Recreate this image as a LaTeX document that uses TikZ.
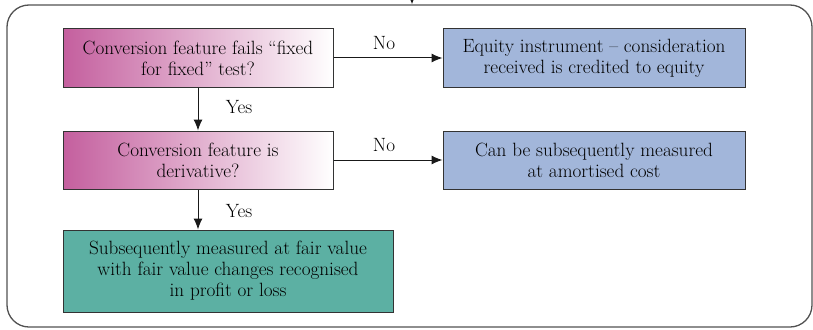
\documentclass[tikz,border=0pt]{standalone}
\usetikzlibrary{arrows.meta}

\definecolor{testpink}{HTML}{C45F9E}
\definecolor{resultblue}{HTML}{A2B6DA}
\definecolor{resultgreen}{HTML}{5CB0A3}
\definecolor{edgegrey}{HTML}{333333}

\begin{document}
\begin{tikzpicture}[
  x=1pt,
  y=-1pt,
  font=\fontsize{19.2}{21}\selectfont,
  frame/.style={
    draw=edgegrey!85,
    line width=1.3pt,
    rounded corners=22pt,
    minimum width=805pt,
    minimum height=322pt
  },
  testbox/.style={
    draw=edgegrey,
    line width=1pt,
    left color=testpink,
    right color=white,
    minimum width=270pt,
    minimum height=58pt,
    align=center,
    text=black
  },
  resultbox/.style={
    draw=edgegrey,
    line width=1pt,
    fill=resultblue,
    minimum width=302pt,
    minimum height=58pt,
    align=center,
    text=black
  },
  outcomebox/.style={
    draw=edgegrey,
    line width=1pt,
    fill=resultgreen,
    minimum width=330pt,
    minimum height=82pt,
    align=center,
    text=black
  },
  flowarrow/.style={
    draw=black!90,
    line width=1pt,
    -{Latex[length=11pt,width=9pt]}
  },
  answer/.style={
    text=black,
    inner sep=0pt
  }
]

\useasboundingbox (0,0) rectangle (813,329);

\node[frame] (frame) at (409.5,166) {};
\coordinate (entry) at (412,0);
\draw[flowarrow, -{Latex[length=5pt,width=4pt]}] (entry) -- (entry |- frame.north);

\node[testbox] (fixedtest) at (198,58) {Conversion feature fails ``fixed\\for fixed'' test?};
\node[resultbox] (equity) at (594,58) {Equity instrument -- consideration\\received is credited to equity};
\node[testbox] (derivtest) at (198,160) {Conversion feature is\\derivative?};
\node[resultbox] (amortised) at (594,160) {Can be subsequently measured\\at amortised cost};
\node[outcomebox] (fairvalue) at (228,271) {Subsequently measured at fair value\\with fair value changes recognised\\in profit or loss};

\draw[flowarrow] (fixedtest) -- (equity);
\draw[flowarrow] (derivtest) -- (amortised);
\draw[flowarrow] (fixedtest) -- (derivtest);
\draw[flowarrow] (derivtest.south) -- (derivtest.south |- fairvalue.north);

\node[answer] (no1) at (384,43) {No};
\node[answer] (no2) at (384,145) {No};
\node[answer] (yes1) at (239,107) {Yes};
\node[answer] (yes2) at (239,211) {Yes};

\end{tikzpicture}
\end{document}
